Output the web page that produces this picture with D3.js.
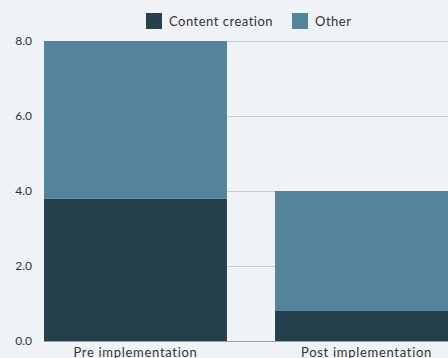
<!DOCTYPE html>
<html><head><meta charset="utf-8">
<script src="https://cdn.jsdelivr.net/npm/d3@7"></script>
<style>
html,body{margin:0;padding:0;background:#eff3f6;overflow:hidden;}
text{font-family:Lato,"Open Sans",sans-serif;fill:#333;}
</style></head>
<body><svg id="c" width="448" height="358"></svg>
<script>
const categories = ["Pre implementation", "Post implementation"];
const seriesNames = ["Content creation", "Other"];
const contentCreation = [3.8, 0.8];
const other = [4.2, 3.2];
const yTicks = [0, 2, 4, 6, 8];
const colors = ["#25414e", "#53849b"];

const svg = d3.select("#c");
const mLeft = 44, mTop = 41, mBottom = 341, mRight = 458;
const x = d3.scaleBand().domain(categories).range([mLeft, mRight]).paddingInner(0.208).paddingOuter(0);
const y = d3.scaleLinear().domain([0, 8]).range([mBottom, mTop]);

// gridlines
svg.append("g").selectAll("line").data(yTicks.slice(1)).join("line")
  .attr("x1", mLeft).attr("x2", 448)
  .attr("y1", d => y(d) + 0.5).attr("y2", d => y(d) + 0.5)
  .attr("stroke", "#c8cbce").attr("stroke-width", 1);

const rows = categories.map((c, i) => ({cat: c, "Content creation": contentCreation[i], "Other": other[i]}));
const stacked = d3.stack().keys(seriesNames)(rows);
svg.append("g").selectAll("g").data(stacked).join("g")
  .attr("fill", (d, i) => colors[i])
  .selectAll("rect").data(d => d).join("rect")
  .attr("x", d => x(d.data.cat))
  .attr("width", x.bandwidth())
  .attr("y", d => y(d[1]))
  .attr("height", d => y(d[0]) - y(d[1]));

// baseline
svg.append("line").attr("x1", mLeft).attr("x2", 448).attr("y1", mBottom + 0.5).attr("y2", mBottom + 0.5)
  .attr("stroke", "#9a9fa3").attr("stroke-width", 1);

// y labels
svg.append("g").selectAll("text").data(yTicks).join("text")
  .attr("x", 32).attr("y", d => y(d)).attr("dy", "0.35em")
  .attr("text-anchor", "end").attr("font-size", 12)
  .text(d => d3.format(".1f")(d));

// x labels
svg.append("g").selectAll("text").data(categories).join("text")
  .attr("x", d => x(d) + x.bandwidth() / 2).attr("y", 357)
  .attr("text-anchor", "middle").attr("font-size", 13).attr("letter-spacing", 0.7)
  .text(d => d);

// legend
const legend = [{name: seriesNames[0], x: 146}, {name: seriesNames[1], x: 292}];
const lg = svg.append("g").selectAll("g").data(legend).join("g")
  .attr("transform", d => `translate(${d.x},13)`);
lg.append("rect").attr("width", 16).attr("height", 16).attr("fill", (d, i) => colors[i]);
lg.append("text").attr("x", 23).attr("y", 8).attr("dy", "0.35em").attr("font-size", 13).attr("letter-spacing", 0.5).text(d => d.name);
</script></body></html>
